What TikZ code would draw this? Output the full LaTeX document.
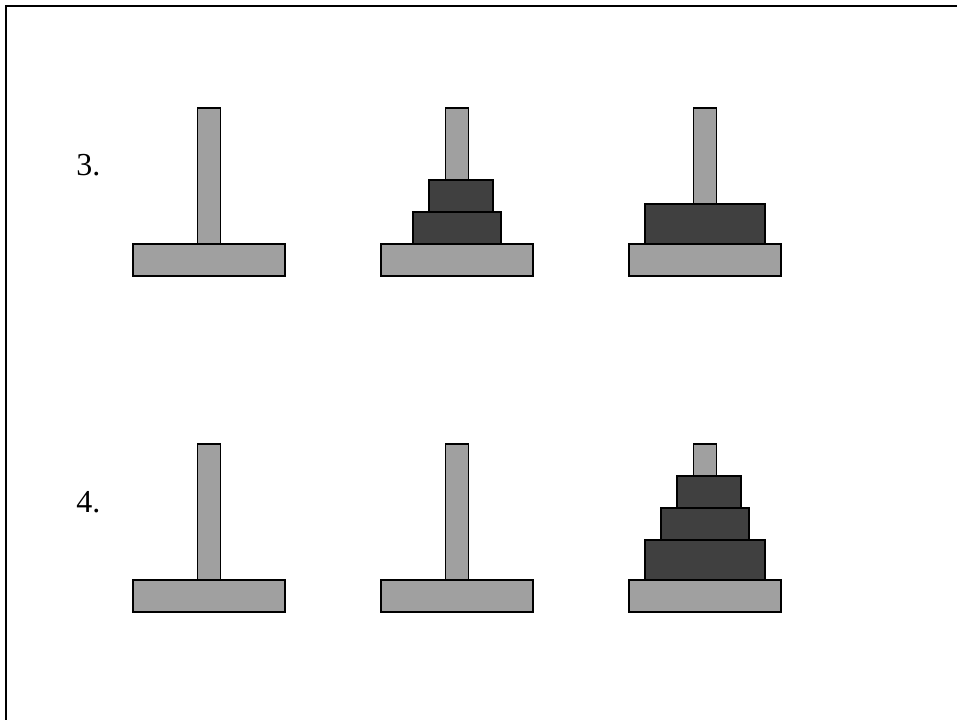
\documentclass[tikz,border=0pt]{standalone}
\usepackage{fontspec}
\setmainfont{Liberation Serif}
\definecolor{PegGray}{HTML}{A0A0A0}
\definecolor{DiskGray}{HTML}{404040}
\tikzset{
  frame/.style={draw=black,line width=1.5pt},
  rod/.style={draw=black,fill=PegGray,line width=1.25pt},
  disk/.style={draw=black,fill=DiskGray,line width=1.25pt},
  steplabel/.style={font=\fontsize{24}{28}\selectfont,anchor=west,inner sep=0pt}
}
% \hanoipeg{x}{y}: rod and base, y = top of the base
\newcommand{\hanoipeg}[2]{
  \draw[rod] (#1-11.5,#2) rectangle (#1+11.5,#2-136);
  \draw[rod] (#1-76,#2) rectangle (#1+76,#2+32);
}
% \hanoidisk{x}{y}{half width}{height}: disk sitting on y
\newcommand{\hanoidisk}[4]{\draw[disk] (#1-#3,#2) rectangle (#1+#3,#2-#4);}

\begin{document}
\begin{tikzpicture}[x=0.75pt,y=-0.75pt]
  \useasboundingbox (0,0) rectangle (957,720);
  \draw[frame] (6,6) rectangle (975,740);

  \node[steplabel] (lbl3) at (76,165) {3.};
  \node[steplabel] (lbl4) at (76,502) {4.};

  \foreach \px in {209,457,705} {
    \hanoipeg{\px}{244}
    \hanoipeg{\px}{580}
  }

  % step 3
  \hanoidisk{457}{244}{44}{32}
  \hanoidisk{461}{212}{32}{32}
  \hanoidisk{705}{244}{60}{40}

  % step 4
  \hanoidisk{705}{580}{60}{40}
  \hanoidisk{705}{540}{44}{32}
  \hanoidisk{709}{508}{32}{32}
\end{tikzpicture}
\end{document}
